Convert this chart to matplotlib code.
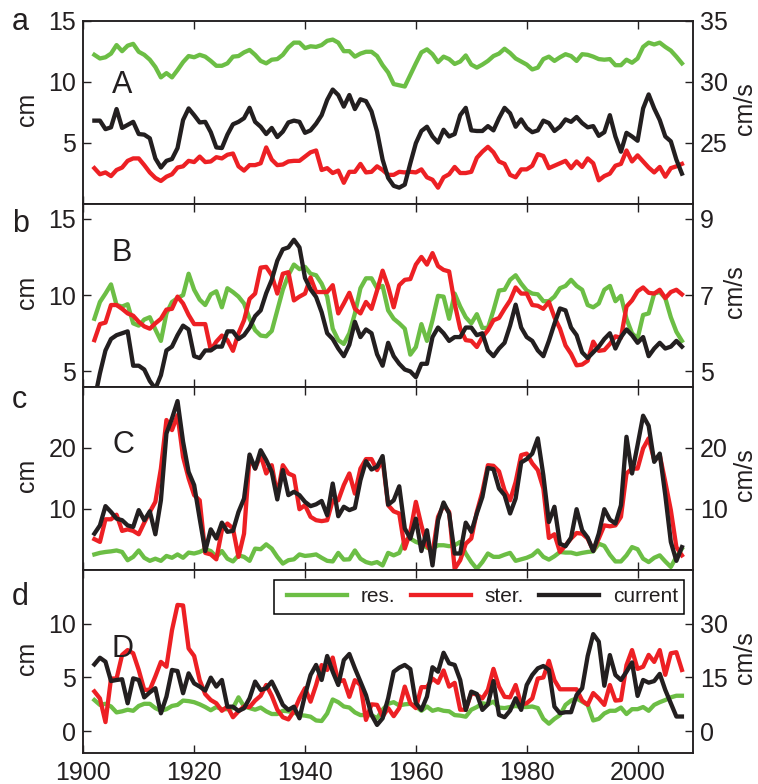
import numpy as np
import matplotlib
matplotlib.use("Agg")
import matplotlib.pyplot as plt
from matplotlib.patches import Rectangle

plt.rcParams['font.family'] = ['Liberation Sans', 'DejaVu Sans']

FIRST_YEAR = 1902

a_res = [12.2,11.9,12.0,12.3,13.0,12.5,12.95,13.1,12.45,12.2,11.8,11.2,10.35,10.7,10.35,10.95,11.6,12.1,12.0,12.2,12.05,11.7,11.3,11.3,11.5,12.05,12.1,12.4,12.6,12.2,11.7,11.5,11.8,11.85,12.2,12.8,13.2,13.2,12.75,12.9,12.85,13.0,13.35,13.45,13.2,12.5,12.5,12.05,12.3,12.45,12.45,12.1,11.35,10.75,9.8,9.7,9.6,10.55,11.5,12.4,12.65,12.25,11.6,12.05,11.85,11.45,11.65,12.15,11.4,11.15,11.4,11.7,12.1,12.3,12.7,12.35,11.9,11.65,11.4,11.0,11.15,11.85,12.05,11.7,12.0,12.25,12.1,11.7,12.25,12.2,12.05,11.85,11.8,11.85,11.35,11.35,11.8,11.55,11.9,12.85,13.2,13.05,13.2,12.85,12.55,12.05,11.5]
a_ster = [2.9,2.4,2.55,2.25,2.75,2.95,3.5,3.7,3.7,3.15,2.55,2.1,1.85,2.2,2.4,2.95,3.05,3.5,3.4,3.85,3.4,3.45,3.8,3.7,4.0,4.1,3.05,2.7,3.15,3.15,3.3,4.6,3.6,3.15,3.2,3.45,3.5,3.5,3.85,4.2,4.35,2.75,2.9,2.5,2.7,1.7,2.6,2.6,3.25,2.55,2.6,3.05,2.75,2.35,2.35,2.6,2.55,2.6,2.55,2.8,2.15,1.95,1.3,2.15,2.4,3.0,2.5,2.5,2.6,3.75,4.25,4.65,4.2,3.45,3.25,2.35,2.15,2.8,2.8,3.1,4.05,3.9,2.9,3.1,3.3,3.5,2.9,3.45,3.0,3.7,3.3,1.9,2.25,2.45,3.1,3.25,4.35,3.45,3.95,3.45,2.95,2.55,3.0,2.2,2.9,3.05,3.25]
a_cur = [26.8,26.8,26.1,26.25,27.75,26.2,26.45,26.7,25.7,25.65,25.35,23.7,22.95,23.5,23.65,24.55,26.85,27.8,27.25,26.65,26.7,25.85,24.6,24.55,25.65,26.5,26.7,27.0,27.85,26.7,26.3,25.7,26.2,25.45,25.9,26.65,26.8,26.7,25.8,26.0,26.55,27.25,28.5,29.35,28.9,27.95,28.9,27.75,28.55,28.4,27.55,25.9,23.6,22.1,21.45,21.3,21.55,23.3,24.95,25.95,26.3,25.5,25.0,26.05,25.5,25.7,27.25,27.85,26.0,25.95,25.95,26.35,26.0,27.0,27.85,27.4,26.3,26.9,26.2,25.85,26.0,26.8,26.6,25.95,26.3,26.9,26.7,27.1,26.6,26.25,26.35,25.55,25.85,27.25,25.5,24.25,25.8,25.5,25.15,27.8,28.95,27.8,26.85,25.5,25.1,23.6,22.45]

b_res = [8.45,9.55,10.1,10.7,9.35,9.25,9.4,8.15,8.0,8.4,8.55,7.75,7.0,8.8,9.55,9.8,10.0,11.4,10.35,9.7,9.35,10.05,10.25,9.2,10.45,10.2,9.9,9.45,8.45,7.7,7.35,7.3,7.65,9.0,10.35,11.3,12.0,11.7,11.85,11.4,11.3,10.75,9.9,7.8,7.05,6.8,7.5,8.8,10.45,11.1,11.1,10.45,10.6,9.0,8.45,8.15,7.8,6.1,6.6,8.1,7.0,8.35,9.95,9.9,8.45,10.1,9.25,8.55,8.15,8.75,7.85,7.85,9.0,10.3,10.35,11.0,11.3,10.75,10.3,10.1,10.05,9.6,9.6,9.9,10.45,10.6,11.0,10.6,10.35,9.35,9.2,9.45,10.35,10.6,9.6,9.95,8.45,7.5,7.15,8.7,8.8,10.1,10.2,9.8,8.55,7.6,7.0]
b_ster = [7.05,8.1,8.2,9.35,9.35,9.1,8.8,8.65,8.25,7.95,7.8,8.15,8.45,9.05,9.1,9.9,9.45,8.7,8.1,8.1,8.1,6.4,6.95,7.35,7.05,6.35,7.5,8.35,9.75,10.1,11.8,11.85,11.3,10.1,11.4,11.5,9.65,9.9,10.1,11.15,10.2,10.2,10.2,10.65,8.8,9.45,10.15,9.1,8.8,9.55,9.1,10.3,11.6,10.55,9.2,10.65,11.0,11.05,12.0,12.5,12.0,12.75,11.9,11.65,11.55,9.45,7.8,7.05,7.0,6.6,7.25,7.7,8.35,8.5,9.1,9.65,10.5,10.1,10.1,9.35,9.3,9.1,9.55,8.55,7.8,6.7,6.15,5.4,5.45,5.7,6.95,6.35,6.4,6.8,7.3,7.2,9.25,9.65,10.25,10.5,10.15,10.1,10.35,9.8,10.2,10.35,10.05]
b_cur = [4.25,4.95,5.55,5.85,5.95,6.0,6.05,5.15,5.15,5.05,4.75,4.55,4.9,5.55,5.65,5.95,6.2,6.1,5.4,5.35,5.55,5.55,5.65,5.65,6.05,6.05,5.85,5.95,6.15,6.45,6.6,7.05,7.4,7.9,8.2,8.25,8.45,8.25,7.45,7.15,6.95,6.55,6.0,5.85,5.6,5.4,5.7,6.3,5.9,6.1,6.0,5.45,5.15,5.75,5.4,5.2,5.05,5.0,4.85,5.2,5.2,5.9,6.15,6.0,5.8,5.9,5.9,6.15,6.15,5.95,6.0,5.55,5.4,5.6,5.75,6.2,6.75,6.15,5.9,5.8,5.55,5.4,5.8,6.25,6.65,6.6,6.15,5.95,5.5,5.35,5.5,5.65,5.85,6.0,5.6,5.9,6.1,5.95,5.75,5.9,5.4,5.6,5.75,5.6,5.65,5.8,5.65]

c_res = [2.55,2.8,2.95,3.05,3.2,2.95,1.6,2.15,3.2,2.0,1.5,1.85,1.5,2.3,2.0,2.55,2.0,2.85,2.7,2.95,3.4,3.1,2.15,3.1,1.85,1.4,2.4,2.15,1.5,3.5,3.4,4.2,3.5,2.15,1.05,1.6,1.75,2.55,2.3,2.4,2.55,2.0,1.5,1.4,2.8,1.7,1.75,3.2,1.85,1.3,1.05,1.3,0.75,2.8,2.4,2.8,4.85,5.15,4.6,4.3,3.65,3.5,4.05,4.05,3.9,4.05,4.6,2.7,1.3,0.2,1.3,2.7,2.15,2.15,2.5,2.8,1.5,1.75,2.0,2.4,3.2,2.15,1.7,2.25,2.95,2.85,2.85,2.6,2.8,2.95,3.05,4.3,3.95,2.5,1.4,1.4,2.4,3.75,3.4,1.85,1.3,2.0,2.4,1.4,0.5,2.15,3.5]
c_ster = [5.05,4.6,8.3,8.3,9.05,6.4,6.65,6.4,5.85,7.75,9.5,11.15,16.6,24.55,22.9,25.35,18.5,15.0,12.25,11.4,2.8,2.55,1.75,6.5,7.6,6.8,2.15,5.95,18.5,16.6,18.8,15.8,17.15,12.25,17.15,15.8,15.4,9.95,10.6,8.7,8.15,8.0,8.15,11.4,11.4,13.9,15.8,12.5,16.6,18.15,18.15,16.35,18.0,10.6,9.6,9.25,3.5,6.25,11.15,7.3,4.05,2.7,8.7,10.6,9.5,0.2,1.6,4.3,5.15,9.5,12.8,17.15,17.05,16.15,13.05,11.4,14.4,18.8,19.05,17.45,16.35,13.35,5.25,5.85,2.95,4.05,5.15,6.05,5.95,5.15,3.2,5.15,7.3,7.15,7.3,8.7,15.8,16.6,16.6,19.9,21.55,18.0,18.8,14.4,9.8,3.75,2.4]
c_cur = [5.95,7.3,10.45,9.5,8.4,8.15,7.3,7.05,9.8,8.15,9.6,5.85,11.4,22.35,24.8,27.65,21.0,16.05,13.9,8.4,3.1,6.65,5.15,7.75,6.25,6.4,9.5,11.7,18.9,16.6,19.6,18.0,16.05,11.55,16.35,12.25,12.8,12.25,11.15,10.45,10.75,11.3,8.95,14.15,8.8,10.35,9.8,10.15,14.7,17.8,16.45,16.9,18.65,10.7,11.4,13.7,6.8,5.15,8.4,3.1,6.5,0.75,8.15,11.05,9.25,2.7,2.7,7.75,6.25,9.25,11.95,16.7,16.5,13.35,12.25,9.25,11.7,17.6,18.15,19.05,21.55,15.5,7.85,10.35,4.3,3.9,5.3,9.95,6.5,5.3,3.1,5.95,9.95,8.25,7.6,10.6,21.8,15.8,20.45,25.25,23.6,17.7,19.05,12.25,4.6,1.5,3.75]

d_res = [2.9,2.45,2.55,2.3,1.75,1.85,2.0,1.9,2.35,2.55,2.55,2.15,1.9,2.05,2.35,2.45,2.85,2.8,2.7,2.5,2.25,1.95,2.25,2.05,2.05,2.15,3.15,2.3,2.15,2.0,2.2,1.85,1.6,1.6,1.9,1.85,1.75,1.5,1.45,1.35,1.0,0.95,1.65,2.95,2.7,2.3,2.2,1.75,1.5,1.5,1.5,1.2,2.0,2.55,2.7,2.4,2.5,2.55,2.3,1.9,2.3,1.9,2.05,1.9,1.85,1.5,1.45,1.35,2.0,2.25,2.6,2.5,2.75,2.2,2.15,2.25,2.35,2.25,2.25,2.3,2.15,1.15,0.7,1.15,1.5,2.45,2.85,3.05,2.75,2.45,1.0,1.15,1.65,1.9,1.9,2.2,1.6,2.05,2.05,2.25,1.9,2.45,2.7,2.9,3.15,3.3,3.3]
d_ster = [3.7,3.05,0.85,4.9,4.9,7.1,7.55,7.25,5.7,3.85,3.85,5.1,6.45,6.0,9.4,11.75,11.7,7.7,7.0,4.75,3.45,2.9,2.6,1.9,2.3,1.3,1.85,2.3,2.25,2.85,3.3,4.3,3.3,2.0,1.3,1.1,1.85,3.05,4.0,2.75,4.3,6.15,5.7,6.85,4.6,4.75,3.2,4.75,4.3,1.05,2.5,2.45,1.35,2.15,1.4,2.15,4.15,2.6,2.15,4.1,4.1,4.9,4.5,5.65,4.15,4.5,2.0,2.0,3.55,3.4,3.05,3.85,5.8,4.15,3.2,3.15,4.3,2.5,2.6,3.05,4.9,5.0,6.55,4.75,3.9,3.9,3.9,3.9,2.85,2.45,3.55,3.05,2.45,4.3,2.85,2.9,6.15,7.55,5.8,6.0,7.1,6.45,7.55,5.25,7.25,7.35,5.7]
d_cur = [18.65,20.5,19.4,14.0,14.3,14.5,7.8,14.75,14.3,9.45,10.85,12.0,5.0,9.65,17.1,16.8,10.6,16.15,13.35,12.45,11.35,14.95,12.45,14.3,6.85,6.85,5.65,6.4,9.2,13.85,11.5,12.0,13.85,10.75,7.35,5.95,6.85,3.6,10.1,15.7,18.5,14.3,21.0,16.6,12.9,19.85,21.55,17.55,13.85,10.1,4.55,1.75,3.6,9.2,16.6,17.75,18.5,17.35,7.8,5.95,9.65,17.85,16.6,21.9,18.95,18.5,14.3,5.95,11.05,10.4,5.95,7.5,14.0,4.55,3.9,5.75,9.2,5.95,12.9,15.7,17.55,18.2,17.1,6.85,5.0,5.3,5.3,10.1,12.0,21.0,27.1,25.0,12.7,21.25,15.7,14.3,16.6,19.2,9.85,14.3,13.55,14.0,16.0,11.5,7.8,4.1,4.1]

series_names = ['res.', 'ster.', 'current']
panel_letters = ['a', 'b', 'c', 'd']
panel_names = ['A', 'B', 'C', 'D']
year_ticks = [1900, 1920, 1940, 1960, 1980, 2000]
left_ticks = [[5, 10, 15], [5, 10, 15], [10, 20], [0, 5, 10]]
right_ticks = [[25, 30, 35], [5, 7, 9], [10, 20], [0, 15, 30]]
left_lims = [(0, 15), (4, 16), (0, 30), (-2, 15)]
right_lims = [(20, 35), (4.6, 9.4), (0, 30), (-6, 45)]
panels = [(a_res, a_ster, a_cur), (b_res, b_ster, b_cur), (c_res, c_ster, c_cur), (d_res, d_ster, d_cur)]

W, H = 758, 784
GREEN, RED, BLACK = '#6CBE45', '#ED2024', '#231F20'
FS = 18
LW = 3.1

fig = plt.figure(figsize=(W / 100, H / 100), dpi=100)
tops = [20.7, 203.5, 386.7, 570.0]
bots = [203.5, 386.7, 570.0, 752.7]
L, R = 83.3, 693.0
letter_base = [30, 232, 408, 605]
name_base = [93, 261, 453, 657]
unit_x = [745, 735, 745, 745]
unit_y = [109, 292, 475, 658]

def fx(x):
    return x / W

def fy(y):
    return 1 - y / H

for i, (res, ster, cur) in enumerate(panels):
    years = np.arange(FIRST_YEAR, FIRST_YEAR + len(res))
    ax = fig.add_axes([fx(L), fy(bots[i]), (R - L) / W, (bots[i] - tops[i]) / H])
    l1, = ax.plot(years, res, color=GREEN, lw=LW, solid_joinstyle='round')
    l2, = ax.plot(years, ster, color=RED, lw=LW, solid_joinstyle='round')
    ax.set_xlim(1900, 2010)
    ax.set_ylim(*left_lims[i])
    ax.set_yticks(left_ticks[i])
    ax.set_xticks(year_ticks)
    ax.tick_params(axis='x', direction='in', top=True, bottom=True, length=6, width=1,
                   labelbottom=(i == 3), labelsize=FS, labelcolor=BLACK, color=BLACK, pad=6)
    ax.tick_params(axis='y', direction='in', length=6, width=1, labelsize=FS, labelcolor=BLACK,
                   color=BLACK, pad=5)
    tw = ax.twinx()
    l3, = tw.plot(years, cur, color=BLACK, lw=LW, solid_joinstyle='round')
    tw.set_ylim(*right_lims[i])
    tw.set_yticks(right_ticks[i])
    tw.tick_params(axis='y', direction='in', length=6, width=1, labelsize=FS, labelcolor=BLACK,
                   color=BLACK, pad=5)
    for a in (ax, tw):
        for s in a.spines.values():
            s.set_linewidth(1.1)
            s.set_color(BLACK)
    fig.text(fx(12), fy(letter_base[i]), panel_letters[i], fontsize=22, color=BLACK, va='baseline', ha='left')
    fig.text(fx(112), fy(name_base[i]), panel_names[i], fontsize=22, color=BLACK, va='baseline', ha='left', zorder=5)
    fig.text(fx(27), fy(unit_y[i]), 'cm', fontsize=FS, color=BLACK, rotation=90, va='center', ha='center')
    fig.text(fx(unit_x[i]), fy(unit_y[i]), 'cm/s', fontsize=FS, color=BLACK, rotation=90, va='center', ha='center')
    if i == 3:
        tw.add_patch(Rectangle((fx(273.5), fy(614)), (683.5 - 273.5) / W, 34 / H,
                               transform=fig.transFigure, facecolor='white', edgecolor='black',
                               linewidth=1.1, zorder=4, clip_on=False))
        leg = tw.legend([l1, l2, l3], series_names, ncol=3, loc='center left',
                        bbox_to_anchor=(fx(287), fy(597)), bbox_transform=fig.transFigure,
                        fontsize=15, frameon=False, borderaxespad=0, borderpad=0,
                        handlelength=2.9, handletextpad=0.65, columnspacing=0.72, labelcolor=BLACK)
        leg.set_zorder(5)

fig.savefig('out.png', dpi=100)
